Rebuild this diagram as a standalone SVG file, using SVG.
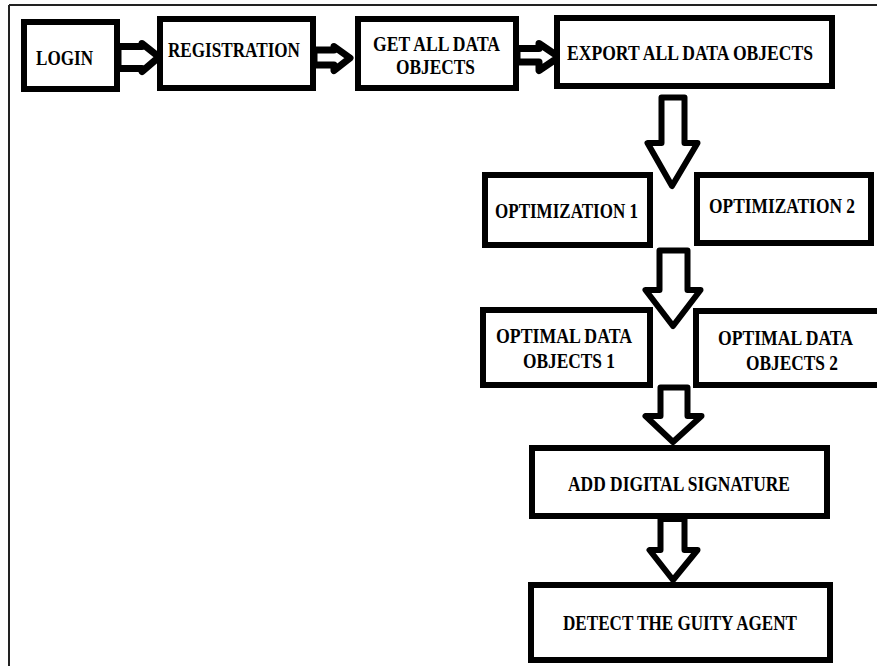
<svg xmlns="http://www.w3.org/2000/svg" width="877" height="666" viewBox="0 0 877 666">
<style>
.box{fill:#fff;stroke:#000;stroke-width:6}
.arr{fill:#fff;stroke:#000;stroke-width:6;stroke-linejoin:round}
.harr{fill:#fff;stroke:#000;stroke-width:7;stroke-linejoin:round}
.t{font-family:"Liberation Serif","Times New Roman",serif;font-weight:bold;font-size:22px;fill:#000}
</style>
<rect width="877" height="666" fill="#fff"/>
<g id="frame">
<line x1="9" y1="5" x2="877" y2="5" stroke="#222" stroke-width="2"/>
<line x1="9" y1="5" x2="9" y2="666" stroke="#222" stroke-width="2"/>
</g>
<g id="connectors">
<polygon class="harr" points="118,46.5 142,46.5 142,43.5 159,57 142,71.5 142,68.5 118,68.5"/>
<polygon class="harr" points="314,50 334,50 334,46.5 350,58 334,70.5 334,65 314,65"/>
<polygon class="harr" points="517,48.5 539,48.5 539,43.5 559,57 539,70.5 539,62 517,62"/>
<polygon class="arr" points="661.5,97.5 684.5,97.5 684.5,143 697.5,143 672,186 647.5,143 661.5,143"/>
<polygon class="arr" points="659.5,250.5 687.5,250.5 687.5,290 700.5,290 673,326 645.5,290 659.5,290"/>
<polygon class="arr" points="660.5,387.5 687.5,387.5 687.5,416 701.5,416 673,442 645.5,416 660.5,416"/>
<polygon class="arr" points="660.5,519 684.5,519 684.5,550 697.5,550 673,580 649.5,550 660.5,550"/>
</g>
<g id="login">
<rect class="box" x="24" y="22" width="93" height="67"/>
<text class="t" x="36" y="65" textLength="57" lengthAdjust="spacingAndGlyphs">LOGIN</text>
</g>
<g id="registration">
<rect class="box" x="160" y="19" width="153" height="69"/>
<text class="t" x="168" y="57" textLength="132" lengthAdjust="spacingAndGlyphs">REGISTRATION</text>
</g>
<g id="get-all">
<rect class="box" x="358" y="19" width="158" height="69"/>
<text class="t" x="373" y="51" textLength="127" lengthAdjust="spacingAndGlyphs">GET ALL DATA</text>
<text class="t" x="396" y="74" textLength="79" lengthAdjust="spacingAndGlyphs">OBJECTS</text>
</g>
<g id="export">
<rect class="box" x="557" y="18" width="275" height="68"/>
<text class="t" x="567" y="60" textLength="246" lengthAdjust="spacingAndGlyphs">EXPORT ALL DATA OBJECTS</text>
</g>
<g id="opt1">
<rect class="box" x="485" y="175" width="165" height="70"/>
<text class="t" x="495" y="218" textLength="143" lengthAdjust="spacingAndGlyphs">OPTIMIZATION 1</text>
</g>
<g id="opt2">
<rect class="box" x="697" y="175" width="174" height="68"/>
<text class="t" x="709" y="213" textLength="146" lengthAdjust="spacingAndGlyphs">OPTIMIZATION 2</text>
</g>
<g id="optimal1">
<rect class="box" x="483" y="310" width="167" height="75"/>
<text class="t" x="496" y="343" textLength="136" lengthAdjust="spacingAndGlyphs">OPTIMAL DATA</text>
<text class="t" x="523" y="368" textLength="92" lengthAdjust="spacingAndGlyphs">OBJECTS 1</text>
</g>
<g id="optimal2">
<rect class="box" x="696" y="311" width="200" height="74"/>
<text class="t" x="718" y="345" textLength="135" lengthAdjust="spacingAndGlyphs">OPTIMAL DATA</text>
<text class="t" x="746" y="370" textLength="92" lengthAdjust="spacingAndGlyphs">OBJECTS 2</text>
</g>
<g id="signature">
<rect class="box" x="532" y="448" width="295" height="68"/>
<text class="t" x="568" y="491" textLength="222" lengthAdjust="spacingAndGlyphs">ADD DIGITAL SIGNATURE</text>
</g>
<g id="detect">
<rect class="box" x="531" y="585" width="299" height="75"/>
<text class="t" x="563" y="630" textLength="234" lengthAdjust="spacingAndGlyphs">DETECT THE GUITY AGENT</text>
</g>
</svg>
